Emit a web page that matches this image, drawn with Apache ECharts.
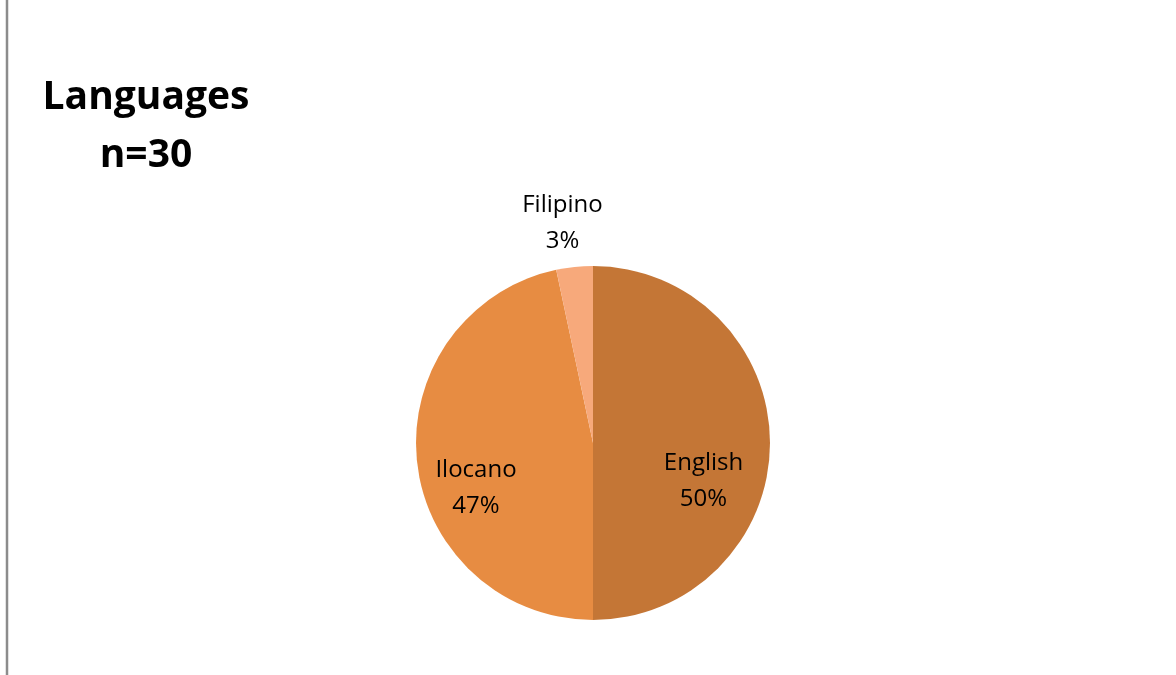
<!DOCTYPE html>
<html>
<head>
<meta charset="utf-8">
<script src="https://cdn.jsdelivr.net/npm/echarts@6/dist/echarts.min.js"></script>
<style>html,body{margin:0;padding:0;background:#fff}#c{width:1176px;height:675px}</style>
</head>
<body>
<div id="c"></div>
<script>
const categories = ['English', 'Ilocano', 'Filipino'];
const counts = [15, 14, 1];
const percentLabels = ['50%', '47%', '3%'];
const colors = ['#C47636', '#E78C42', '#F7A97B'];
// label offsets relative to the library's inside label position
const labelShift = [[19, 38], [-26, 36], [-21, -129]];

const chart = echarts.init(document.getElementById('c'));
chart.setOption({
  animation: false,
  title: {
    text: 'Languages\nn=30',
    left: 141,
    top: 64,
    textAlign: 'center',
    textStyle: { fontFamily: 'Open Sans', fontWeight: 'bold', fontSize: 39, lineHeight: 58, color: '#000' }
  },
  graphic: [{
    type: 'line', shape: { x1: 7, y1: 0, x2: 7, y2: 675 },
    style: { stroke: '#8c8c8c', lineWidth: 2.5 }
  }],
  series: [{
    type: 'pie',
    center: [593, 443],
    radius: 177,
    startAngle: 90,
    clockwise: true,
    itemStyle: { borderWidth: 0 },
    label: {
      show: true,
      position: 'inside',
      fontFamily: 'Open Sans',
      fontSize: 24,
      lineHeight: 36,
      color: '#000',
      formatter: p => p.name + '\n' + percentLabels[p.dataIndex]
    },
    labelLine: { show: false },
    labelLayout: p => ({ dx: labelShift[p.dataIndex][0], dy: labelShift[p.dataIndex][1] }),
    emphasis: { disabled: true },
    data: categories.map((c, i) => ({ name: c, value: counts[i], itemStyle: { color: colors[i] } }))
  }]
});
</script>
</body>
</html>
